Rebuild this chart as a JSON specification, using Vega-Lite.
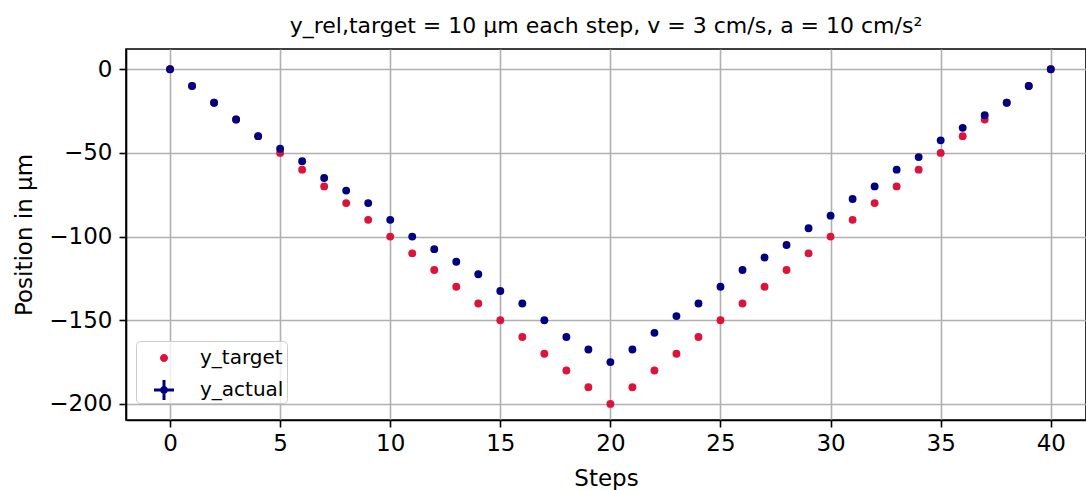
{
  "$schema": "https://vega.github.io/schema/vega-lite/v6.json",
  "width": 960,
  "height": 371,
  "autosize": {"type": "none"},
  "padding": {"left": 126, "top": 49, "right": 0, "bottom": 70},
  "background": "white",
  "title": {
    "text": "y_rel,target = 10 µm each step, v = 3 cm/s, a = 10 cm/s²",
    "font": "DejaVu Sans",
    "fontSize": 22,
    "fontWeight": "normal",
    "color": "black",
    "anchor": "middle",
    "baseline": "alphabetic",
    "offset": 19,
    "dy": 25
  },
  "config": {
    "font": "DejaVu Sans",
    "view": {"stroke": "black", "strokeWidth": 1.6},
    "axis": {
      "domainColor": "black",
      "domainWidth": 1.6,
      "tickColor": "black",
      "tickWidth": 1.6,
      "tickSize": 7,
      "labelFont": "DejaVu Sans",
      "labelFontSize": 23,
      "labelColor": "black",
      "titleFont": "DejaVu Sans",
      "titleFontSize": 23,
      "titleFontWeight": "normal",
      "titleColor": "black",
      "gridColor": "#b0b0b0",
      "gridWidth": 1.6,
      "labelFlush": false,
      "labelOverlap": false
    }
  },
  "data": {
    "values": [
      {"step": 0, "pos": 0, "series": "target"},
      {"step": 1, "pos": -10, "series": "target"},
      {"step": 2, "pos": -20, "series": "target"},
      {"step": 3, "pos": -30, "series": "target"},
      {"step": 4, "pos": -40, "series": "target"},
      {"step": 5, "pos": -50, "series": "target"},
      {"step": 6, "pos": -60, "series": "target"},
      {"step": 7, "pos": -70, "series": "target"},
      {"step": 8, "pos": -80, "series": "target"},
      {"step": 9, "pos": -90, "series": "target"},
      {"step": 10, "pos": -100, "series": "target"},
      {"step": 11, "pos": -110, "series": "target"},
      {"step": 12, "pos": -120, "series": "target"},
      {"step": 13, "pos": -130, "series": "target"},
      {"step": 14, "pos": -140, "series": "target"},
      {"step": 15, "pos": -150, "series": "target"},
      {"step": 16, "pos": -160, "series": "target"},
      {"step": 17, "pos": -170, "series": "target"},
      {"step": 18, "pos": -180, "series": "target"},
      {"step": 19, "pos": -190, "series": "target"},
      {"step": 20, "pos": -200, "series": "target"},
      {"step": 21, "pos": -190, "series": "target"},
      {"step": 22, "pos": -180, "series": "target"},
      {"step": 23, "pos": -170, "series": "target"},
      {"step": 24, "pos": -160, "series": "target"},
      {"step": 25, "pos": -150, "series": "target"},
      {"step": 26, "pos": -140, "series": "target"},
      {"step": 27, "pos": -130, "series": "target"},
      {"step": 28, "pos": -120, "series": "target"},
      {"step": 29, "pos": -110, "series": "target"},
      {"step": 30, "pos": -100, "series": "target"},
      {"step": 31, "pos": -90, "series": "target"},
      {"step": 32, "pos": -80, "series": "target"},
      {"step": 33, "pos": -70, "series": "target"},
      {"step": 34, "pos": -60, "series": "target"},
      {"step": 35, "pos": -50, "series": "target"},
      {"step": 36, "pos": -40, "series": "target"},
      {"step": 37, "pos": -30, "series": "target"},
      {"step": 38, "pos": -20, "series": "target"},
      {"step": 39, "pos": -10, "series": "target"},
      {"step": 40, "pos": 0, "series": "target"},
      {"step": 0, "pos": 0, "series": "actual"},
      {"step": 1, "pos": -10, "series": "actual"},
      {"step": 2, "pos": -20, "series": "actual"},
      {"step": 3, "pos": -30, "series": "actual"},
      {"step": 4, "pos": -40, "series": "actual"},
      {"step": 5, "pos": -47.5, "series": "actual"},
      {"step": 6, "pos": -55, "series": "actual"},
      {"step": 7, "pos": -65, "series": "actual"},
      {"step": 8, "pos": -72.5, "series": "actual"},
      {"step": 9, "pos": -80, "series": "actual"},
      {"step": 10, "pos": -90, "series": "actual"},
      {"step": 11, "pos": -100, "series": "actual"},
      {"step": 12, "pos": -107.5, "series": "actual"},
      {"step": 13, "pos": -115, "series": "actual"},
      {"step": 14, "pos": -122.5, "series": "actual"},
      {"step": 15, "pos": -132.5, "series": "actual"},
      {"step": 16, "pos": -140, "series": "actual"},
      {"step": 17, "pos": -150, "series": "actual"},
      {"step": 18, "pos": -160, "series": "actual"},
      {"step": 19, "pos": -167.5, "series": "actual"},
      {"step": 20, "pos": -175, "series": "actual"},
      {"step": 21, "pos": -167.5, "series": "actual"},
      {"step": 22, "pos": -157.5, "series": "actual"},
      {"step": 23, "pos": -147.5, "series": "actual"},
      {"step": 24, "pos": -140, "series": "actual"},
      {"step": 25, "pos": -130, "series": "actual"},
      {"step": 26, "pos": -120, "series": "actual"},
      {"step": 27, "pos": -112.5, "series": "actual"},
      {"step": 28, "pos": -105, "series": "actual"},
      {"step": 29, "pos": -95, "series": "actual"},
      {"step": 30, "pos": -87.5, "series": "actual"},
      {"step": 31, "pos": -77.5, "series": "actual"},
      {"step": 32, "pos": -70, "series": "actual"},
      {"step": 33, "pos": -60, "series": "actual"},
      {"step": 34, "pos": -52.5, "series": "actual"},
      {"step": 35, "pos": -42.5, "series": "actual"},
      {"step": 36, "pos": -35, "series": "actual"},
      {"step": 37, "pos": -27.5, "series": "actual"},
      {"step": 38, "pos": -20, "series": "actual"},
      {"step": 39, "pos": -10, "series": "actual"},
      {"step": 40, "pos": 0, "series": "actual"}
    ]
  },
  "encoding": {
    "x": {
      "field": "step",
      "type": "quantitative",
      "scale": {"domain": [-2, 41.6], "nice": false, "zero": false},
      "axis": {
        "title": "Steps",
        "values": [0, 5, 10, 15, 20, 25, 30, 35, 40],
        "labelPadding": 5,
        "titleBaseline": "alphabetic",
        "titleY": 65
      }
    },
    "y": {
      "field": "pos",
      "type": "quantitative",
      "scale": {"domain": [-209.6, 12.1], "nice": false, "zero": false},
      "axis": {
        "title": "Position in µm",
        "values": [0, -50, -100, -150, -200],
        "labelPadding": 7,
        "titleBaseline": "alphabetic",
        "titleX": -95
      }
    }
  },
  "layer": [
    {
      "mark": {"type": "point", "filled": true, "size": 0, "opacity": 1, "strokeWidth": 0},
      "encoding": {
        "color": {
          "field": "series",
          "type": "nominal",
          "scale": {"domain": ["target", "actual"], "range": ["#DC143C", "#000080"]},
          "legend": {
            "title": null,
            "orient": "none",
            "legendX": 10,
            "legendY": 292,
            "padding": 3,
            "rowPadding": 8,
            "symbolSize": 784,
            "symbolStrokeWidth": 0,
            "symbolOpacity": 1,
            "labelOffset": 33,
            "labelFont": "DejaVu Sans",
            "labelFontSize": 20,
            "labelColor": "black",
            "labelExpr": "datum.label == 'target' ? 'y_target' : 'y_actual'",
            "strokeColor": "#cccccc",
            "fillColor": "rgba(255,255,255,0.8)",
            "cornerRadius": 4
          }
        },
        "shape": {
          "field": "series",
          "type": "nominal",
          "scale": {
            "domain": ["target", "actual"],
            "range": [
              "M1.072,0A0.286,0.286 0 1,1 0.5,0A0.286,0.286 0 1,1 1.072,0Z",
              "M0.072,-0.107H0.679V-0.714H0.893V-0.107H1.5V0.107H0.893V0.714H0.679V0.107H0.072ZM1.072,0A0.286,0.286 0 1,1 0.5,0A0.286,0.286 0 1,1 1.072,0Z"
            ]
          },
          "legend": {
            "title": null,
            "orient": "none",
            "legendX": 10,
            "legendY": 292,
            "padding": 3,
            "rowPadding": 8,
            "symbolSize": 784,
            "symbolStrokeWidth": 0,
            "symbolOpacity": 1,
            "labelOffset": 33,
            "labelFont": "DejaVu Sans",
            "labelFontSize": 20,
            "labelColor": "black",
            "labelExpr": "datum.label == 'target' ? 'y_target' : 'y_actual'",
            "strokeColor": "#cccccc",
            "fillColor": "rgba(255,255,255,0.8)",
            "cornerRadius": 4
          }
        }
      }
    },
    {
      "mark": {"type": "point", "filled": true, "shape": "circle", "size": 62, "opacity": 1, "strokeWidth": 0},
      "encoding": {
        "color": {
          "field": "series",
          "type": "nominal",
          "scale": {"domain": ["target", "actual"], "range": ["#DC143C", "#000080"]},
          "legend": null
        }
      }
    }
  ]
}
